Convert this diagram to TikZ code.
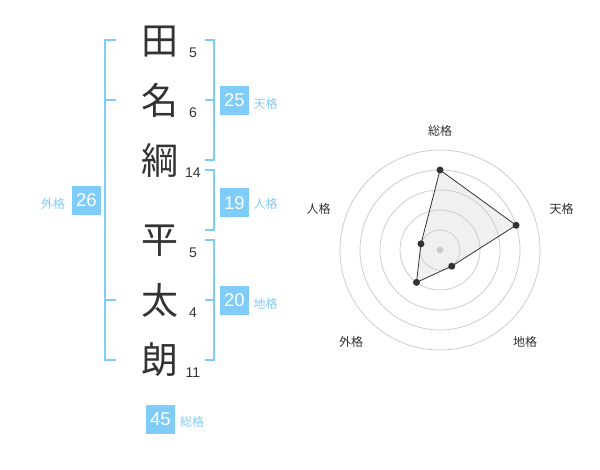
\documentclass[tikz,border=0pt]{standalone}
\usepackage{fontspec}
\setmainfont{Liberation Sans}
\newfontfamily\jpfont{Noto Sans CJK JP}
\definecolor{kakublue}{HTML}{80CCF8}
\definecolor{inkgray}{HTML}{333333}
\definecolor{ringgray}{HTML}{CCCCCC}
\definecolor{areagray}{HTML}{F0F0F0}
\begin{document}
\begin{tikzpicture}[x=1pt, y=-1pt,
  kanji/.style={text=inkgray, inner sep=0pt, font=\jpfont\fontsize{37}{37}\selectfont},
  strokes/.style={text=inkgray, inner sep=0pt, font=\fontsize{14}{14}\selectfont},
  numbox/.style={fill=kakublue, text=white, minimum size=29pt, inner sep=0pt, font=\fontsize{18.5}{18.5}\selectfont},
  kaku/.style={text=kakublue, inner sep=0pt, font=\jpfont\fontsize{12}{12}\selectfont},
  bracket/.style={draw=kakublue, line width=2pt},
  axislabel/.style={text=inkgray, inner sep=0pt, font=\jpfont\fontsize{12}{12}\selectfont},
  ring/.style={draw=ringgray, line width=0.8pt},
  dot/.style={circle, fill=inkgray, inner sep=0pt, minimum size=7pt}]
\useasboundingbox (0,0) rectangle (600,470);

\node[kanji] (K1) at (160,42) {田};
\node[kanji] (K2) at (160,100) {名};
\node[kanji] (K3) at (160,160) {綱};
\node[kanji] (K4) at (160,241) {平};
\node[kanji] (K5) at (160,300) {太};
\node[kanji] (K6) at (160,360) {朗};

\node[strokes] (S1) at (193,52.5) {5};
\node[strokes] (S2) at (193,113) {6};
\node[strokes] (S3) at (193,173) {14};
\node[strokes] (S4) at (193,252.5) {5};
\node[strokes] (S5) at (193,313) {4};
\node[strokes] (S6) at (193,373) {11};

\draw[bracket] (116,40) -- (105,40) -- (105,360) -- (116,360);
\draw[bracket] (105,100) -- (116,100);
\draw[bracket] (105,300) -- (116,300);
\draw[bracket] (205,40) -- (214,40) -- (214,160) -- (205,160);
\draw[bracket] (205,100) -- (214,100);
\draw[bracket] (205,170) -- (214,170) -- (214,230) -- (205,230);
\draw[bracket] (205,240) -- (214,240) -- (214,360) -- (205,360);
\draw[bracket] (205,300) -- (214,300);

\node[numbox] (Ten) at (234.5,100.5) {25};
\node[kaku] (TenL) at (265.5,104) {天格};
\node[numbox] (Jin) at (234.5,203) {19};
\node[kaku] (JinL) at (265.5,204) {人格};
\node[numbox] (Chi) at (234.5,300.5) {20};
\node[kaku] (ChiL) at (265.5,304) {地格};
\node[numbox] (Gai) at (86.5,200.5) {26};
\node[kaku] (GaiL) at (53,204) {外格};
\node[numbox] (Sou) at (160.5,419) {45};
\node[kaku] (SouL) at (192,422) {総格};

\begin{scope}[shift={(440,250)}, y=1pt]
\coordinate (c) at (0,0);
\coordinate (pSou) at (90:80);
\coordinate (pTen) at (18:80);
\coordinate (pChi) at (-54:20);
\coordinate (pGai) at (-126:40);
\coordinate (pJin) at (162:20);
\fill[areagray] (pSou) -- (pTen) -- (pChi) -- (pGai) -- (pJin) -- cycle;
\foreach \r in {20,40,60,80,100}
  \draw[ring] (c) circle[radius=\r];
\node[circle, fill=ringgray, inner sep=0pt, minimum size=7pt] (C) at (c) {};
\draw[inkgray, line width=0.8pt] (pSou) -- (pTen) -- (pChi) -- (pGai) -- (pJin) -- cycle;
\foreach \p in {pSou,pTen,pChi,pGai,pJin}
  \node[dot] (\p-dot) at (\p) {};
\node[axislabel] (ASou) at (0,119.5) {総格};
\node[axislabel] (ATen) at (121.5,41) {天格};
\node[axislabel] (AChi) at (85,-92) {地格};
\node[axislabel] (AGai) at (-89,-92) {外格};
\node[axislabel] (AJin) at (-121.5,41) {人格};
\end{scope}
\end{tikzpicture}
\end{document}
